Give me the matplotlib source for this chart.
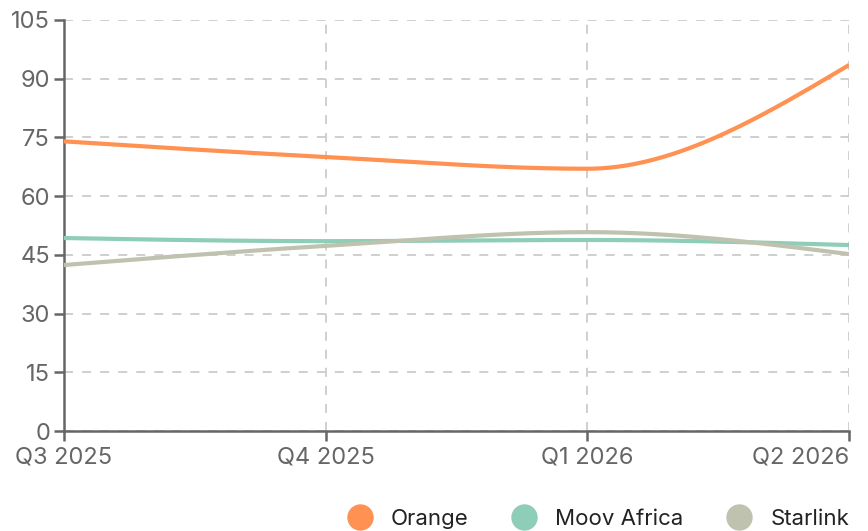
import numpy as np
import matplotlib.pyplot as plt
from matplotlib.lines import Line2D

plt.rcParams['font.family'] = ['Inter', 'DejaVu Sans']

quarters = ["Q3 2025", "Q4 2025", "Q1 2026", "Q2 2026"]
orange = [74, 70, 67, 93.5]
moov = [49.3, 48.5, 48.8, 47.5]
starlink = [42.4, 47.3, 50.8, 45.2]

series = [("Orange", orange, "#ff9152"),
          ("Moov Africa", moov, "#8ecdb8"),
          ("Starlink", starlink, "#c0c2b0")]


def monotone(x, y, n=60):
    # monotone cubic like d3.curveMonotoneX
    x = np.asarray(x, float)
    y = np.asarray(y, float)
    h = np.diff(x)
    s = np.diff(y) / h
    m = np.zeros(len(x))
    for i in range(1, len(x) - 1):
        p = (s[i - 1] * h[i] + s[i] * h[i - 1]) / (h[i - 1] + h[i])
        m[i] = (np.sign(s[i - 1]) + np.sign(s[i])) * min(abs(s[i - 1]), abs(s[i]), 0.5 * abs(p))
    m[0] = (3 * s[0] - m[1]) / 2
    m[-1] = (3 * s[-1] - m[-2]) / 2
    xs, ys = [], []
    for i in range(len(x) - 1):
        t = np.linspace(0, 1, n)
        h00 = 2 * t**3 - 3 * t**2 + 1
        h10 = t**3 - 2 * t**2 + t
        h01 = -2 * t**3 + 3 * t**2
        h11 = t**3 - t**2
        xs.append(x[i] + t * h[i])
        ys.append(h00 * y[i] + h10 * h[i] * m[i] + h01 * y[i + 1] + h11 * h[i] * m[i + 1])
    return np.concatenate(xs), np.concatenate(ys)


fig = plt.figure(figsize=(8.68, 5.31), dpi=100)
ax = fig.add_axes([64 / 868, 100 / 531, 785 / 868, 411 / 531])

xpos = np.arange(len(quarters))
for name, vals, col in series:
    sx, sy = monotone(xpos, vals)
    ax.plot(sx, sy, color=col, lw=3, solid_capstyle='butt', zorder=3)

ax.set_xlim(0, 3)
ax.set_ylim(0, 105)
ax.set_yticks(np.arange(0, 106, 15))
ax.set_xticks(xpos)
ax.set_xticklabels(quarters)
ax.get_xticklabels()[-1].set_ha('right')
ax.grid(True, color='#cccccc', linestyle=(0, (5, 5)), lw=1.3)
ax.set_axisbelow(True)

for sp in ['top', 'right']:
    ax.spines[sp].set_visible(False)
for sp in ['left', 'bottom']:
    ax.spines[sp].set_color('#666666')
    ax.spines[sp].set_linewidth(1.8)
ax.tick_params(colors='#666666', labelcolor='#666666', labelsize=17, length=7.5, width=1.8)
ax.tick_params(axis='x', pad=3.5)
ax.tick_params(axis='y', pad=2.5)

handles = [Line2D([], [], marker='o', ls='none', markersize=18, color=c) for _, _, c in series]
ax.legend(handles, [s[0] for s in series], loc='center right', bbox_to_anchor=(1.0, -0.214),
          frameon=False, ncol=3, fontsize=16, handlelength=1.2, handletextpad=0.8,
          columnspacing=1.9, labelcolor='#222222', borderaxespad=0, borderpad=0)

fig.savefig("out.png", dpi=100)
